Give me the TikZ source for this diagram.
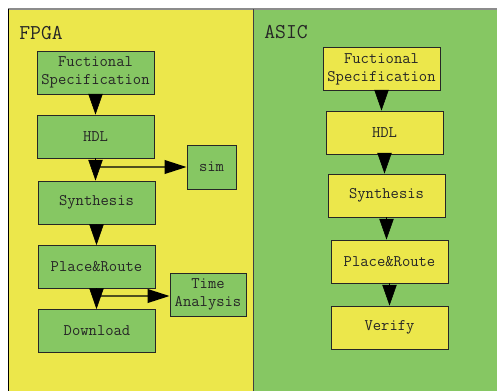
\documentclass[tikz,border=0pt]{standalone}
\usepackage{tikz}
\usetikzlibrary{arrows.meta, positioning, calc}

\definecolor{fpgayellow}{RGB}{236,231,75}
\definecolor{asicgreen}{RGB}{134,199,99}
\definecolor{linkolive}{RGB}{80,80,30}

\tikzset{
  stagebox/.style={draw=black!85, line width=0.6pt, rectangle, inner sep=0pt,
    minimum width=2.925cm, minimum height=1.075cm, align=center,
    font=\ttfamily\fontsize{11.5}{13}\selectfont, text=black!85},
  flow/.style={-{Triangle[width=0.36cm,length=0.52cm]}, black},
  side/.style={-{Triangle[width=0.34cm,length=0.55cm,black]}, linkolive, line width=1.4pt},
  title/.style={font=\ttfamily\fontsize{15}{17}\selectfont, text=black!85}
}

\begin{document}
\begin{tikzpicture}[x=0.025cm, y=-0.025cm]
  \useasboundingbox (0,0) rectangle (497,391);

  % Panels
  \fill[fpgayellow] (8,9) rectangle (253,391);
  \fill[asicgreen] (253,9) rectangle (497,391);
  \draw[black!45, line width=0.8pt] (8,9) -- (497,9);
  \draw[black, line width=0.6pt] (8,9) -- (8,391);
  \draw[black!75, line width=0.6pt] (253,9) -- (253,391);

  \node[title] (fpga) at (41,33) {FPGA};
  \node[title] (asic) at (286,32) {ASIC};

  % FPGA flow
  \node[stagebox, fill=asicgreen] (fs1) at (95.5,72.5) {Fuctional\\Specification};
  \node[stagebox, fill=asicgreen] (hdl1) at (95.5,136.5) {HDL};
  \node[stagebox, fill=asicgreen] (syn1) at (96.5,202.5) {Synthesis};
  \node[stagebox, fill=asicgreen] (pr1) at (96.5,267) {Place\&Route};
  \node[stagebox, fill=asicgreen] (dl1) at (97,331) {Download};
  \node[stagebox, fill=asicgreen, minimum width=1.225cm, minimum height=1.1cm] (sim) at (211.5,167) {sim};
  \node[stagebox, fill=asicgreen, minimum width=1.9cm] (ta) at (208,294.5) {Time\\Analysis};

  % Side branches
  \coordinate (hdlsplit) at (95.5,167);
  \coordinate (prsplit) at (96.5,296);
  \draw[side] (hdlsplit) -- (sim);
  \draw[side] (prsplit) -- (ta.west |- prsplit);

  % Arrows
  \draw[flow] (fs1) -- (fs1 |- hdl1.north);
  \draw[flow] (hdl1) -- (hdl1 |- syn1.north);
  \draw[flow] (syn1) -- (syn1 |- pr1.north);
  \draw[flow] (pr1) -- (pr1 |- dl1.north);

  % ASIC flow
  \node[stagebox, fill=fpgayellow] (fs2) at (381.5,69) {Fuctional\\Specification};
  \node[stagebox, fill=fpgayellow] (hdl2) at (384.5,132.5) {HDL};
  \node[stagebox, fill=fpgayellow] (syn2) at (386.5,195.5) {Synthesis};
  \node[stagebox, fill=fpgayellow] (pr2) at (389.5,261.5) {Place\&Route};
  \node[stagebox, fill=fpgayellow] (ver) at (389.5,327.5) {Verify};

  \draw[flow] (fs2) -- (fs2 |- hdl2.north);
  \draw[flow] (hdl2) -- (hdl2 |- syn2.north);
  \draw[flow] (syn2) -- (syn2 |- pr2.north);
  \draw[flow] (pr2) -- (pr2 |- ver.north);
\end{tikzpicture}
\end{document}
